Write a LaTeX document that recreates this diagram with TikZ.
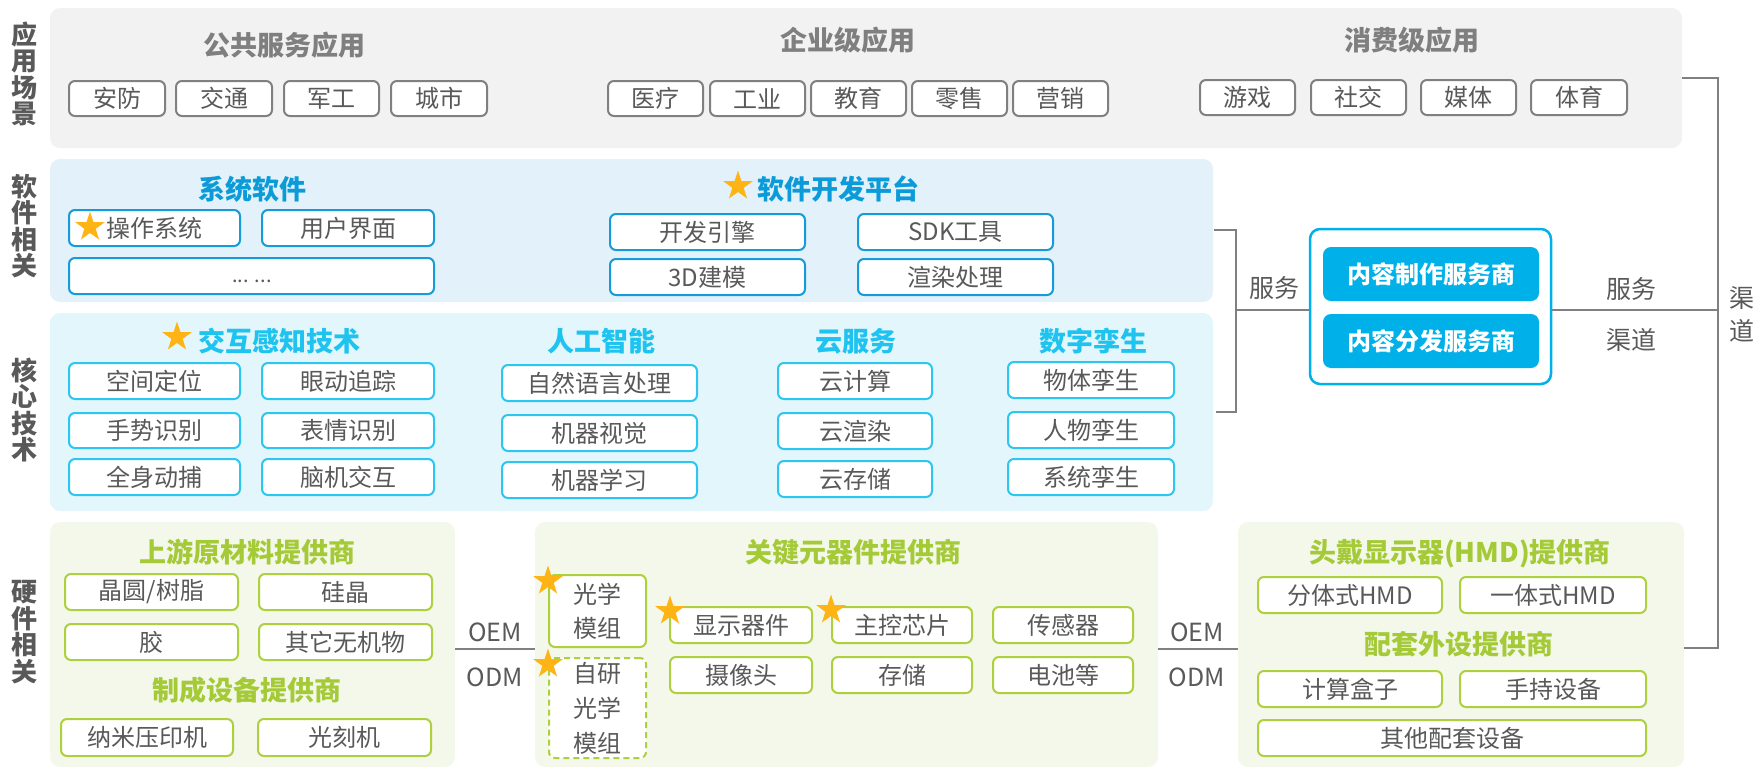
\documentclass[tikz,border=0pt]{standalone}
\usepackage{fontspec}
\setmainfont{Noto Sans CJK SC}
\usetikzlibrary{shapes.geometric}
\definecolor{gbg}{HTML}{F2F2F2}
\definecolor{gline}{HTML}{808080}
\definecolor{ttgray}{HTML}{7F7F7F}
\definecolor{tgray}{HTML}{595959}
\definecolor{sbg}{HTML}{E2F1FA}
\definecolor{sline}{HTML}{169AD8}
\definecolor{stitle}{HTML}{0B9BD9}
\definecolor{cbg}{HTML}{E3F6FC}
\definecolor{cline}{HTML}{2DC6F0}
\definecolor{ctitle}{HTML}{1EC3EF}
\definecolor{pbox}{HTML}{00B0E8}
\definecolor{hbg}{HTML}{F4F8EA}
\definecolor{hline}{HTML}{ADD03E}
\definecolor{htitle}{HTML}{A5CA37}
\definecolor{starc}{HTML}{FFB415}
\definecolor{lgray}{HTML}{808080}
\newcommand\myfs[2]{\fontsize{#1}{#2}\selectfont}
\newcommand\bx[7]{\node[#1,anchor=north west,minimum width={(#5-#3)*1pt},minimum height={(#6-#4)*1pt}] (#2) at (#3,#4) {#7};}
\tikzset{
  every node/.style={inner sep=0pt,outer sep=0pt},
  panel/.style={draw=none,rounded corners=10pt},
  gtag/.style={draw=gline,line width=2pt,rounded corners=6pt,fill=white,text=tgray,font=\myfs{24}{30}},
  btag/.style={gtag,draw=sline},
  ctag/.style={gtag,draw=cline},
  htag/.style={gtag,draw=hline},
  hdash/.style={gtag,draw=hline,dashed,dash pattern=on 6pt off 4pt,align=center,font=\myfs{24}{35}},
  ptag/.style={draw=none,rounded corners=8pt,fill=pbox,text=white,font=\bfseries\myfs{24}{30}},
  pout/.style={draw=pbox,line width=2.5pt,rounded corners=10pt,fill=white},
  gtitle/.style={font=\bfseries\myfs{27}{30},text=ttgray},
  stit/.style={font=\bfseries\myfs{27}{30},text=stitle},
  ctit/.style={font=\bfseries\myfs{27}{30},text=ctitle},
  htit/.style={font=\bfseries\myfs{27}{30},text=htitle},
  side/.style={font=\bfseries\myfs{26}{26.5},text=tgray,align=center},
  plain/.style={font=\myfs{25}{34},text=tgray,align=center},
  conn/.style={draw=lgray,line width=2pt},
  starn/.style={star,star points=5,star point ratio=2.6,fill=starc,draw=none,minimum size=31pt,inner sep=0pt}
}
\begin{document}
\begin{tikzpicture}[x=1pt,y=-1pt]
\useasboundingbox (0,0) rectangle (1758,769);
% ---------- row 1 : application scenes
\bx{panel,fill=gbg}{p1}{50}{8}{1682}{148}{}
\node[side] (l1) at (24,74) {应\\用\\场\\景};
\node[gtitle] (t11) at (284,45) {公共服务应用};
\node[gtitle] (t12) at (848,40) {企业级应用};
\node[gtitle] (t13) at (1412,40) {消费级应用};
\bx{gtag}{a1}{69}{81}{165}{116}{安防}
\bx{gtag}{a2}{176}{81}{272}{116}{交通}
\bx{gtag}{a3}{284}{81}{379}{116}{军工}
\bx{gtag}{a4}{391}{81}{487}{116}{城市}
\bx{gtag}{b1}{608}{81}{703}{116}{医疗}
\bx{gtag}{b2}{710}{81}{805}{116}{工业}
\bx{gtag}{b3}{811}{81}{906}{116}{教育}
\bx{gtag}{b4}{912}{81}{1007}{116}{零售}
\bx{gtag}{b5}{1013}{81}{1108}{116}{营销}
\bx{gtag}{c1}{1200}{80}{1295}{115}{游戏}
\bx{gtag}{c2}{1311}{80}{1406}{115}{社交}
\bx{gtag}{c3}{1421}{80}{1516}{115}{媒体}
\bx{gtag}{c4}{1531}{80}{1627}{115}{体育}
% ---------- row 2 : software
\bx{panel,fill=sbg}{p2}{50}{159}{1213}{302}{}
\node[side] (l2) at (24,226) {软\\件\\相\\关};
\node[stit] (t21) at (252,189) {系统软件};
\node[starn] (s21) at (738,186) {};
\node[stit] (t22) at (838,189) {软件开发平台};
\bx{btag}{d1}{69}{210}{240}{246}{操作系统}
\node[starn] (s22) at (90,227) {};
\bx{btag}{d2}{262}{210}{434}{246}{用户界面}
\bx{btag}{d3}{69}{258}{434}{294}{}
\node[font=\myfs{20}{24},text=tgray] (d3t) at (252,281) {... ...};
\bx{btag}{e1}{610}{214}{805}{250}{开发引擎}
\bx{btag}{e2}{858}{214}{1053}{250}{SDK工具}
\bx{btag}{e3}{610}{259}{805}{295}{3D建模}
\bx{btag}{e4}{858}{259}{1053}{295}{渲染处理}
% ---------- row 3 : core technology
\bx{panel,fill=cbg}{p3}{50}{313}{1213}{511}{}
\node[side] (l3) at (24,410) {核\\心\\技\\术};
\node[starn] (s31) at (177,337) {};
\node[ctit] (t31) at (279,341) {交互感知技术};
\node[ctit] (t32) at (601,341) {人工智能};
\node[ctit] (t33) at (856,341) {云服务};
\node[ctit] (t34) at (1093,341) {数字孪生};
\bx{ctag}{f1}{69}{363}{240}{399}{空间定位}
\bx{ctag}{f2}{262}{363}{434}{399}{眼动追踪}
\bx{ctag}{f3}{69}{413}{240}{448}{手势识别}
\bx{ctag}{f4}{262}{413}{434}{448}{表情识别}
\bx{ctag}{f5}{69}{459}{240}{495}{全身动捕}
\bx{ctag}{f6}{262}{459}{434}{495}{脑机交互}
\bx{ctag}{g1}{502}{365}{697}{401}{自然语言处理}
\bx{ctag}{g2}{502}{415}{697}{451}{机器视觉}
\bx{ctag}{g3}{502}{462}{697}{498}{机器学习}
\bx{ctag}{h1}{778}{363}{932}{399}{云计算}
\bx{ctag}{h2}{778}{413}{932}{449}{云渲染}
\bx{ctag}{h3}{778}{461}{932}{497}{云存储}
\bx{ctag}{i1}{1008}{362}{1174}{398}{物体孪生}
\bx{ctag}{i2}{1008}{412}{1174}{448}{人物孪生}
\bx{ctag}{i3}{1008}{459}{1174}{495}{系统孪生}
% ---------- content providers
\bx{pout}{po}{1310}{229}{1551}{384}{}
\bx{ptag}{pp1}{1323}{247}{1539}{301}{内容制作服务商}
\bx{ptag}{pp2}{1323}{314}{1539}{368}{内容分发服务商}
\coordinate (bt) at (1236,230);
\coordinate (bb) at (1236,412);
\coordinate (bm) at (1236,310);
\draw[conn] (1214,230) -- (bt) -- (bb) -- (1216,412);
\draw[conn] (bm) -- (po.west |- bm);
\node[plain] (sv1) at (1274,288) {服务};
\coordinate (rv) at (1718,310);
\draw[conn] (po.east |- rv) -- (rv);
\node[plain] (sv2) at (1631,289) {服务};
\node[plain] (qd1) at (1631,340) {渠道};
\node[font=\myfs{25}{33},text=tgray,align=center] (qd2) at (1742,314) {渠\\道};
% ---------- row 4 : hardware
\bx{panel,fill=hbg}{p41}{50}{522}{455}{767}{}
\bx{panel,fill=hbg}{p42}{535}{522}{1158}{767}{}
\bx{panel,fill=hbg}{p43}{1238}{522}{1684}{767}{}
\node[side] (l4) at (24,632) {硬\\件\\相\\关};
\node[htit] (t41) at (247,552) {上游原材料提供商};
\bx{htag}{j1}{65}{574}{238}{610}{晶圆/树脂}
\bx{htag}{j2}{259}{574}{432}{610}{硅晶}
\bx{htag}{j3}{65}{624}{238}{660}{胶}
\bx{htag}{j4}{259}{624}{432}{660}{其它无机物}
\node[htit] (t42) at (247,690) {制成设备提供商};
\bx{htag}{j5}{61}{719}{233}{756}{纳米压印机}
\bx{htag}{j6}{258}{719}{431}{756}{光刻机}
\node[htit] (t43) at (853,552) {关键元器件提供商};
\bx{htag,align=center,font=\myfs{24}{34}}{k1}{549}{575}{646}{647}{光学\\模组}
\bx{hdash}{k2}{549}{658}{646}{758}{自研\\光学\\模组}
\node[starn] (s41) at (548,581) {};
\node[starn] (s42) at (548,664) {};
\bx{htag}{k3}{670}{607}{812}{643}{显示器件}
\bx{htag}{k4}{832}{607}{972}{643}{主控芯片}
\bx{htag}{k5}{993}{607}{1133}{643}{传感器}
\node[starn] (s43) at (670,611) {};
\node[starn] (s44) at (831,610) {};
\bx{htag}{k6}{670}{657}{812}{693}{摄像头}
\bx{htag}{k7}{832}{657}{972}{693}{存储}
\bx{htag}{k8}{993}{657}{1133}{693}{电池等}
\node[htit] (t44) at (1460,554) {头戴显示器(HMD)提供商};
\bx{htag}{m1}{1258}{577}{1442}{613}{分体式HMD}
\bx{htag}{m2}{1460}{577}{1646}{613}{一体式HMD}
\node[htit] (t45) at (1459,644) {配套外设提供商};
\bx{htag}{m3}{1258}{671}{1442}{707}{计算盒子}
\bx{htag}{m4}{1460}{671}{1646}{707}{手持设备}
\bx{htag}{m5}{1258}{720}{1646}{756}{其他配套设备}
% ---------- OEM / ODM links
\coordinate (o1) at (455,649);
\draw[conn] (o1) -- (p42.west |- o1);
\node[plain] (oem1) at (495,632) {OEM};
\node[plain] (odm1) at (495,677) {ODM};
\coordinate (o2) at (1158,649);
\draw[conn] (o2) -- (p43.west |- o2);
\node[plain] (oem2) at (1197,632) {OEM};
\node[plain] (odm2) at (1197,677) {ODM};
% ---------- channel line on the right
\coordinate (rt) at (1718,78);
\coordinate (rb) at (1718,648);
\draw[conn] (p1.east |- rt) -- (rt) -- (rb) -- (p43.east |- rb);
\end{tikzpicture}
\end{document}
